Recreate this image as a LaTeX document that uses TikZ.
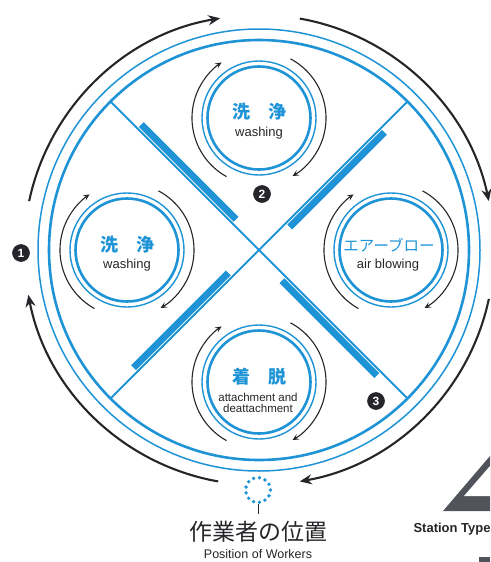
\documentclass[tikz,border=0pt]{standalone}
\usepackage{fontspec}
\setmainfont{Liberation Sans}
\newfontfamily\jp{Noto Sans CJK JP}
\usetikzlibrary{arrows.meta,calc}
\definecolor{cblue}{RGB}{30,148,214}
\definecolor{ink}{RGB}{38,38,42}
\definecolor{tri}{RGB}{80,84,90}
\tikzset{
  bigarc/.style={ink, line width=2.1, -{Stealth[length=12,width=10,inset=4]}},
  smallarc/.style={ink, line width=1.1, -{Stealth[length=6.5,width=6,inset=2.8]}},
  ring/.style={circle, draw=cblue, line width=2.6, minimum size=103, inner sep=0},
  jplab/.style={text=cblue, font=\jp\bfseries\fontsize{18}{18}\selectfont},
  enlab/.style={text=ink, font=\fontsize{13}{13}\selectfont},
  num/.style={circle, fill=ink, text=white, draw=ink, line width=0.6, minimum size=17, inner sep=0, font=\bfseries\fontsize{12}{12}\selectfont},
}
\begin{document}
\begin{tikzpicture}[x=1pt,y=-1pt]
\useasboundingbox (0,0) rectangle (490,562);
\coordinate (C) at (259,250);
% main rings
\draw[cblue, line width=1.5] (C) circle[radius=221];
\draw[cblue, line width=2.6] (C) circle[radius=210];
% cross lines and bars
\foreach \a in {45,135,225,315} {
  \draw[cblue, line width=1.9] (C) -- ($(C)+(\a:210)$);
  \draw[cblue, line width=7] ($(C)+(\a:38)+(\a+90:5.5)$) -- ($(C)+(\a:172)+(\a+90:5.5)$);
}
% outer flow arcs
\draw[bigarc] ($(C)+(100:235)$) arc[start angle=100, end angle=169, radius=235];
\draw[bigarc] ($(C)+(192:235)$) arc[start angle=192, end angle=260.5, radius=235];
\draw[bigarc] ($(C)+(280:235)$) arc[start angle=280, end angle=348, radius=235];
\draw[bigarc] ($(C)+(12:235)$) arc[start angle=12, end angle=80, radius=235];
% stations
\foreach \nm/\x/\y in {stop/259/118, sleft/127/250, sright/391/250, sbot/259/382} {
  \node[ring] (\nm) at (\x,\y) {};
  \draw[cblue, line width=1.4] (\nm.center) circle[radius=57];
  \draw[smallarc] ($(\nm.center)+(119:67)$) arc[start angle=119, end angle=236, radius=67];
  \draw[smallarc] ($(\nm.center)+(298:67)$) arc[start angle=298, end angle=420, radius=67];
}
% labels
\node[jplab] (t1) at (259,112) {洗　浄};
\node[enlab] (e1) at (259,133) {washing};
\node[jplab] (t2) at (127,245) {洗　浄};
\node[enlab] (e2) at (127,265) {washing};
\node[text=cblue, font=\jp\fontsize{15.5}{15.5}\selectfont] (t3) at (389,245) {エアーブロー};
\node[enlab] (e3) at (388,265) {air blowing};
\node[jplab] (t4) at (259,377) {着　脱};
\node[text=ink, font=\fontsize{11.5}{13}\selectfont, align=center] (e4) at (258,403) {attachment and\\[-1.5pt]deattachment};
% numbers
\node[num] (n1) at (21,253) {1};
\node[num] (n2) at (262,194) {2};
\node[num] (n3) at (376,401) {3};
% worker position
\node[circle, draw=cblue, line width=3.8, dash pattern=on 0pt off 6pt, line cap=round, minimum size=25, inner sep=0] (w) at (258,490) {};
\coordinate (wt) at (258,514);
\draw[ink, line width=1] (w.south) -- (wt);
\node[text=ink, font=\jp\fontsize{23}{23}\selectfont] (wj) at (258,532) {作業者の位置};
\node[text=ink, font=\fontsize{12.5}{12.5}\selectfont] (we) at (258,554) {Position of Workers};
% station type
\fill[tri] (443,511) -- (490,456) -- (490,511) -- cycle;
\fill[white] (464,496) -- (490,466) -- (490,496) -- cycle;
\fill[tri] (479,557) rectangle (490,562);
\node[anchor=base west, text=ink, font=\bfseries\fontsize{13}{13}\selectfont] (st) at (410,532) {Station Type};
\end{tikzpicture}
\end{document}
